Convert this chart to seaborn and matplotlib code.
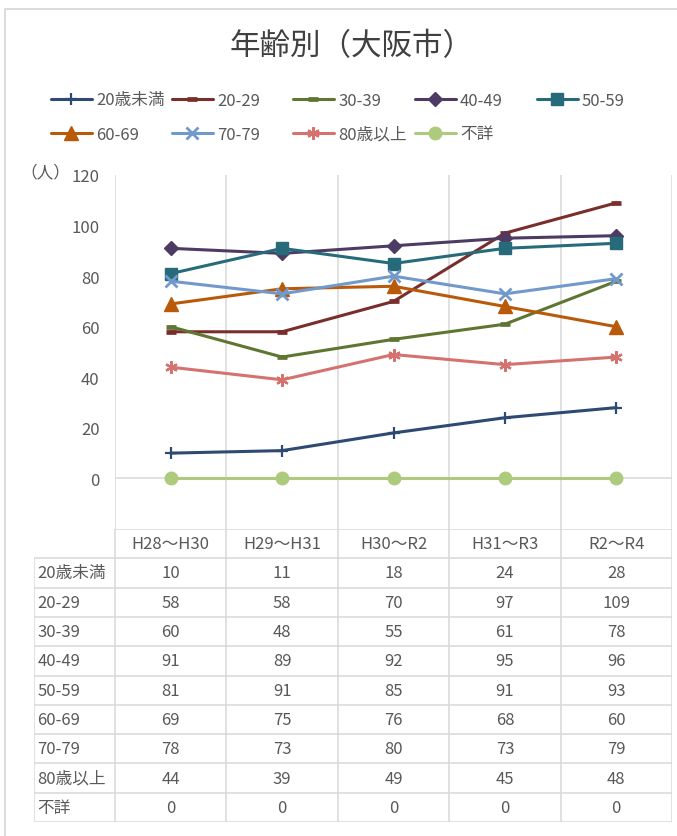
import numpy as np
import pandas as pd
import matplotlib
matplotlib.use("Agg")
import matplotlib.pyplot as plt
import seaborn as sns
from matplotlib.patches import Rectangle

# ---------------- data ----------------
periods = ["H28～H30", "H29～H31", "H30～R2", "H31～R3", "R2～R4"]
groups = ["20歳未満", "20-29", "30-39", "40-49", "50-59",
          "60-69", "70-79", "80歳以上", "不詳"]
v_under20 = [10, 11, 18, 24, 28]
v_20s = [58, 58, 70, 97, 109]
v_30s = [60, 48, 55, 61, 78]
v_40s = [91, 89, 92, 95, 96]
v_50s = [81, 91, 85, 91, 93]
v_60s = [69, 75, 76, 68, 60]
v_70s = [78, 73, 80, 73, 79]
v_80plus = [44, 39, 49, 45, 48]
v_unknown = [0, 0, 0, 0, 0]
y_ticks = [0, 20, 40, 60, 80, 100, 120]
title = "年齢別（大阪市）"
unit_label = "（人）"

series = [v_under20, v_20s, v_30s, v_40s, v_50s, v_60s, v_70s, v_80plus, v_unknown]

# ---------------- styles ----------------
colors = ["#2E4A73", "#7A2E2B", "#5E7632", "#4E3B63", "#276B7B",
          "#B95A0B", "#7199CB", "#D4726F", "#AECB7D"]
# (marker, markersize, markeredgewidth)
marker_styles = [("+", 8, 1.6), ("_", 6.5, 3.4), ("_", 6.5, 3.4), ("D", 7, 1.0),
                 ("s", 8.5, 1.0), ("^", 9.5, 1.0), ("x", 8, 2.0),
                 ((6, 2, 0), 9, 1.6), ("o", 9, 1.0)]
TXT = "#595959"
GRID = "#D9D9D9"

sns.set_theme(style="white")
plt.rcParams['font.family'] = ['Noto Sans CJK JP', 'DejaVu Sans']

W, H = 677, 837
fig = plt.figure(figsize=(W / 100, H / 100), dpi=100)
fig.patch.set_facecolor("white")


def fx(px):
    return px / W


def fy(py):
    return 1 - py / H


# chart border
fig.add_artist(Rectangle((fx(5), fy(H + 10)), fx(W + 10), (H) / H,
                         transform=fig.transFigure, fill=False,
                         edgecolor=GRID, lw=1.3))

# ---------------- plot area ----------------
L, R, T, B = 115, 672, 176, 530
ax = fig.add_axes([fx(L), fy(B), fx(R - L), (B - T) / H])
ax.set_facecolor("none")

records = []
for g, vals in zip(groups, series):
    for i, (p, v) in enumerate(zip(periods, vals)):
        records.append({"group": g, "period": p, "pos": i, "value": v})
df = pd.DataFrame(records)

handles = []
for g, c, (m, ms, mew) in zip(groups, colors, marker_styles):
    sub = df[df["group"] == g]
    sns.lineplot(data=sub, x="pos", y="value", color=c, marker=m,
                 markersize=ms, markeredgewidth=mew, markeredgecolor=c,
                 markerfacecolor=c, linewidth=2.2, ax=ax, legend=False,
                 errorbar=None, sort=False)
    handles.append(ax.lines[-1])

n = len(periods)
ax.set_xlim(-0.5, n - 0.5)
ax.set_ylim(-20, 120)
ax.set_yticks(y_ticks)
ax.set_xticks([])
ax.set_xlabel("")
ax.set_ylabel("")
for s in ax.spines.values():
    s.set_visible(False)
ax.tick_params(axis="y", length=0, pad=11, labelsize=12, labelcolor=TXT)
for b in np.arange(-0.5, n, 1.0):
    ax.axvline(b, color=GRID, lw=1.1, zorder=0)
ax.axhline(0, color=GRID, lw=1.1, zorder=0)

# ---------------- data table ----------------
TL, TB = 34, 823
cat_w = (R - L) / n
x_left = -0.5 - (L - TL) / cat_w
nrows = len(groups) + 1
tab = fig.add_axes([fx(TL), fy(TB), fx(R - TL), (TB - B) / H])
tab.set_xlim(x_left, n - 0.5)
tab.set_ylim(nrows, 0)
tab.axis("off")
tab.hlines(0, -0.5, n - 0.5, color=GRID, lw=1.1)
for r in range(1, nrows + 1):
    tab.hlines(r, x_left, n - 0.5, color=GRID, lw=1.1)
tab.vlines(x_left, 1, nrows, color=GRID, lw=1.1)
for b in np.arange(-0.5, n, 1.0):
    tab.vlines(b, 0, nrows, color=GRID, lw=1.1)
for i, p in enumerate(periods):
    tab.text(i, 0.5, p, ha="center", va="center", fontsize=12, color=TXT)
for r, (g, vals) in enumerate(zip(groups, series), start=1):
    tab.text(x_left + 0.03, r + 0.5, g, ha="left", va="center",
             fontsize=12, color=TXT)
    for i, v in enumerate(vals):
        tab.text(i, r + 0.5, str(v), ha="center", va="center",
                 fontsize=12, color=TXT)

# ---------------- title / labels ----------------
fig.text(fx(352), fy(47), title, ha="center", va="center", fontsize=22,
         color="#404040")
fig.text(fx(45), fy(173), unit_label, ha="center", va="center",
         fontsize=12, color=TXT)

# ---------------- legend ----------------
col_x = [51, 172, 293, 415, 537]
row_y = [101, 135]
for k, (h, g) in enumerate(zip(handles, groups)):
    rx = col_x[k % 5]
    ry = row_y[k // 5]
    fig.legend([h], [g], loc="center left",
               bbox_to_anchor=(fx(rx), fy(ry)), frameon=False,
               borderpad=0, borderaxespad=0, handlelength=2.45,
               handletextpad=0.25, fontsize=12, labelcolor=TXT)

fig.savefig("out.png", dpi=100, facecolor="white")
